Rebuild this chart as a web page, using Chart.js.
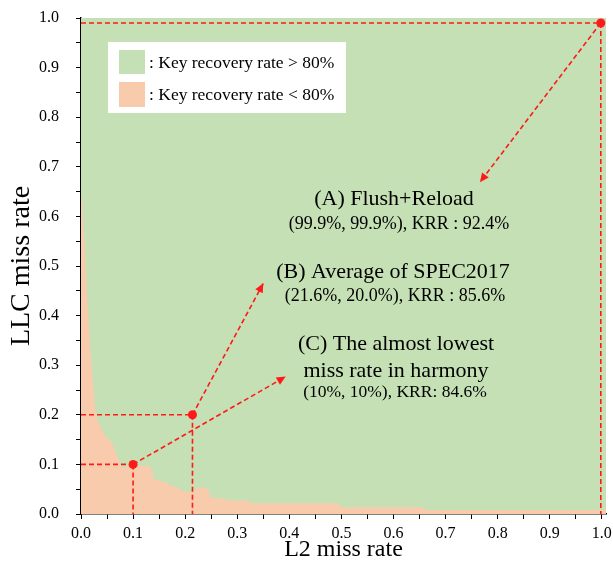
<!DOCTYPE html>
<html>
<head>
<meta charset="utf-8">
<script src="https://cdn.jsdelivr.net/npm/chart.js@4/dist/chart.umd.min.js"></script>
<style>
  html, body { margin: 0; padding: 0; background: #ffffff; }
  #wrap { width: 613px; height: 570px; }
</style>
</head>
<body>
<div id="wrap"><canvas id="c" width="613" height="570"></canvas></div>
<script>
// ---------- data ----------
const boundaryX = [0, 0.002, 0.0077, 0.012, 0.0205, 0.028, 0.030, 0.038, 0.049, 0.0595, 0.078, 0.081, 0.0877, 0.1324, 0.1407, 0.158, 0.180, 0.200, 0.219, 0.221, 0.241, 0.252, 0.2726, 0.282, 0.3205, 0.330, 0.491, 0.503, 0.656, 0.6635, 1.008];
const boundaryY = [0.64, 0.633, 0.532, 0.431, 0.296, 0.204, 0.194, 0.175, 0.153, 0.145, 0.093, 0.092, 0.097, 0.097, 0.070, 0.065, 0.055, 0.045, 0.045, 0.053, 0.053, 0.032, 0.032, 0.027, 0.027, 0.0216, 0.0216, 0.0135, 0.0135, 0.008, 0.008];

const pointNames = ['A', 'B', 'C'];
const pointsX = [0.998, 0.214, 0.1];
const pointsY = [0.99, 0.2, 0.1];
const arrowEndX = [0.766, 0.35, 0.393];
const arrowEndY = [0.669, 0.465, 0.277];

const xTickValues = [0, 0.05, 0.1, 0.15, 0.2, 0.25, 0.3, 0.35, 0.4, 0.45, 0.5, 0.55, 0.6, 0.65, 0.7, 0.75, 0.8, 0.85, 0.9, 0.95, 1.0];
const yTickValues = [0, 0.05, 0.1, 0.15, 0.2, 0.25, 0.3, 0.35, 0.4, 0.45, 0.5, 0.55, 0.6, 0.65, 0.7, 0.75, 0.8, 0.85, 0.9, 0.95, 1.0];

const legendLabels = [': Key recovery rate > 80%', ': Key recovery rate < 80%'];
const annotationLines = [
  ['(A) Flush+Reload', '(99.9%, 99.9%), KRR : 92.4%'],
  ['(B) Average of SPEC2017', '(21.6%, 20.0%), KRR : 85.6%'],
  ['(C) The almost lowest', 'miss rate in harmony', '(10%, 10%), KRR: 84.6%']
];

// ---------- styles ----------
const SERIF = "'Liberation Serif', 'Times New Roman', serif";
const GREEN = '#C5E0B4';
const ORANGE = '#F8CBAD';
const RED = '#ff1a1a';

const fillData = boundaryX.map((x, i) => ({x: x, y: boundaryY[i]}));
const datasets = [];

pointsX.forEach((px, i) => {
  const py = pointsY[i];
  datasets.push({type: 'line', data: [{x: 0, y: py}, {x: px, y: py}], borderColor: RED, borderWidth: 1.6, borderDash: [5, 3], pointRadius: 0, fill: false, order: 2});
  datasets.push({type: 'line', data: [{x: px, y: py}, {x: px, y: 0}], borderColor: RED, borderWidth: 1.6, borderDash: [5, 3], pointRadius: 0, fill: false, order: 2});
  datasets.push({type: 'line', data: [{x: px, y: py}, {x: arrowEndX[i], y: arrowEndY[i]}], borderColor: RED, borderWidth: 1.6, borderDash: [5, 3], pointRadius: 0, fill: false, order: 2});
});
datasets.push({type: 'scatter', data: pointsX.map((x, i) => ({x: x, y: pointsY[i]})), pointRadius: 4.5, pointBackgroundColor: RED, pointBorderWidth: 0, order: 0});
datasets.push({type: 'line', data: fillData, borderWidth: 0, borderColor: 'rgba(0,0,0,0)', backgroundColor: ORANGE, fill: 'origin', pointRadius: 0, tension: 0, order: 10});

const bgPlugin = {
  id: 'bg',
  beforeDatasetsDraw(chart) {
    const {ctx, chartArea: a} = chart;
    ctx.save();
    ctx.fillStyle = GREEN;
    ctx.fillRect(a.left, a.top, a.right - a.left, a.bottom - a.top);
    ctx.restore();
  }
};

const overlayPlugin = {
  id: 'overlay',
  afterDatasetsDraw(chart) {
    const {ctx} = chart;
    const xs = chart.scales.x, ys = chart.scales.y;
    ctx.save();
    // arrow heads
    ctx.fillStyle = RED;
    pointsX.forEach((px, i) => {
      const x0 = xs.getPixelForValue(px), y0 = ys.getPixelForValue(pointsY[i]);
      const x1 = xs.getPixelForValue(arrowEndX[i]), y1 = ys.getPixelForValue(arrowEndY[i]);
      const ang = Math.atan2(y1 - y0, x1 - x0);
      const L = 9, W = 4.2;
      ctx.beginPath();
      ctx.moveTo(x1, y1);
      ctx.lineTo(x1 - L * Math.cos(ang) + W * Math.sin(ang), y1 - L * Math.sin(ang) - W * Math.cos(ang));
      ctx.lineTo(x1 - L * Math.cos(ang) - W * Math.sin(ang), y1 - L * Math.sin(ang) + W * Math.cos(ang));
      ctx.closePath();
      ctx.fill();
    });
    // legend box
    ctx.fillStyle = '#ffffff';
    ctx.fillRect(108, 42, 238, 71);
    ctx.fillStyle = GREEN;
    ctx.fillRect(119, 50, 26, 24);
    ctx.fillStyle = ORANGE;
    ctx.fillRect(119, 82, 26, 25);
    ctx.fillStyle = '#000';
    ctx.font = '17.5px ' + SERIF;
    ctx.textAlign = 'left';
    ctx.textBaseline = 'middle';
    ctx.fillText(legendLabels[0], 149, 63);
    ctx.fillText(legendLabels[1], 149, 95);
    // annotations
    ctx.textAlign = 'center';
    ctx.textBaseline = 'alphabetic';
    const layout = [
      [{x: 394, y: 205, s: 22}, {x: 399, y: 229, s: 18}],
      [{x: 393, y: 278, s: 22}, {x: 395, y: 301, s: 18}],
      [{x: 396, y: 350, s: 22}, {x: 396, y: 377, s: 22}, {x: 395, y: 397, s: 17.5}]
    ];
    annotationLines.forEach((lines, i) => {
      lines.forEach((t, j) => {
        const p = layout[i][j];
        ctx.font = p.s + 'px ' + SERIF;
        ctx.fillText(t, p.x, p.y);
      });
    });
    ctx.restore();
  }
};

function tickLabel(v) {
  return (Math.round(v * 100) % 10 === 0) ? v.toFixed(1) : '';
}

new Chart(document.getElementById('c'), {
  data: {datasets: datasets},
  options: {
    responsive: false,
    animation: false,
    events: [],
    layout: {padding: {top: 18, right: 7, left: 0, bottom: 0}},
    plugins: {legend: {display: false}, tooltip: {enabled: false}},
    scales: {
      x: {
        type: 'linear', min: 0, max: 1.008,
        afterBuildTicks: s => { s.ticks = xTickValues.map(v => ({value: v})); },
        afterFit: s => { s.height = 56; s.paddingLeft = 0; s.paddingRight = 0; },
        ticks: {callback: v => tickLabel(v), font: {family: SERIF, size: 16}, color: '#000', padding: 5, maxRotation: 0, autoSkip: false},
        grid: {drawOnChartArea: false, drawTicks: true, tickLength: 5, color: '#000', lineWidth: 1},
        border: {display: true, color: '#000', width: 1.5},
        title: {display: true, text: 'L2 miss rate', font: {family: SERIF, size: 24}, color: '#000', padding: {top: 0, bottom: 6}}
      },
      y: {
        type: 'linear', min: 0, max: 1.0,
        afterBuildTicks: s => { s.ticks = yTickValues.map(v => ({value: v})); },
        afterFit: s => { s.width = 81; s.paddingTop = 0; s.paddingBottom = 0; },
        ticks: {callback: v => tickLabel(v), font: {family: SERIF, size: 16}, color: '#000', padding: 17, autoSkip: false},
        grid: {drawOnChartArea: false, drawTicks: true, tickLength: 5, color: '#000', lineWidth: 1},
        border: {display: true, color: '#000', width: 1.5},
        title: {display: true, text: 'LLC miss rate', font: {family: SERIF, size: 28}, color: '#000', padding: {top: 5, bottom: 0}}
      }
    }
  },
  plugins: [bgPlugin, overlayPlugin]
});
</script>
</body>
</html>
